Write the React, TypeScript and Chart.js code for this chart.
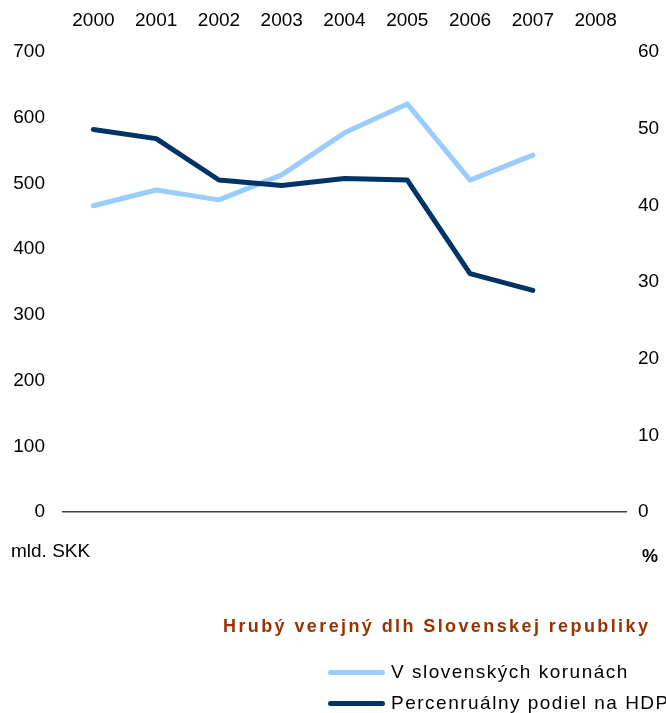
import React, { useEffect, useRef } from 'react';
import { Chart, registerables } from 'chart.js';

Chart.register(...registerables);

const years = ['2000', '2001', '2002', '2003', '2004', '2005', '2006', '2007', '2008'];
const debtSKK = [466, 490, 475, 513, 577, 621, 505, 543, null];
const debtPctGDP = [49.9, 48.7, 43.3, 42.6, 43.5, 43.3, 31.1, 28.9, null];
const leftAxisMin = 0;
const leftAxisMax = 700;
const leftAxisStep = 100;
const rightAxisMin = 0;
const rightAxisMax = 60;
const rightAxisStep = 10;
const seriesNames = ['V slovenských korunách', 'Percenruálny podiel na HDP'];
const titleText = 'Hrubý verejný dlh Slovenskej republiky';
const leftUnit = 'mld. SKK';
const rightUnit = '%';

const LIGHT = '#99CCFF';
const DARK = '#003366';
const FONT = '"Liberation Sans", Arial, sans-serif';

export default function App() {
  const canvasRef = useRef<HTMLCanvasElement | null>(null);

  useEffect(() => {
    document.body.style.margin = '0';
    const canvas = canvasRef.current;
    if (!canvas) return;
    const tickFont = { family: FONT, size: 19 };
    const chart = new Chart(canvas, {
      type: 'line',
      data: {
        labels: years,
        datasets: [
          {
            label: seriesNames[0],
            data: debtSKK,
            yAxisID: 'y',
            borderColor: LIGHT,
            backgroundColor: LIGHT,
            borderWidth: 5,
            pointRadius: 0,
            borderCapStyle: 'round',
            borderJoinStyle: 'round',
            tension: 0,
            order: 1,
          },
          {
            label: seriesNames[1],
            data: debtPctGDP,
            yAxisID: 'y1',
            borderColor: DARK,
            backgroundColor: DARK,
            borderWidth: 5,
            pointRadius: 0,
            borderCapStyle: 'round',
            borderJoinStyle: 'round',
            tension: 0,
            order: 0,
          },
        ],
      },
      options: {
        animation: false,
        responsive: true,
        maintainAspectRatio: false,
        layout: { padding: { left: 0, right: 0, top: 0, bottom: 201 } },
        plugins: {
          legend: { display: false },
          title: { display: false },
          tooltip: { enabled: false },
        },
        scales: {
          x: {
            type: 'category',
            position: 'top',
            offset: true,
            grid: { display: false, drawTicks: false },
            border: { display: false },
            ticks: {
              font: tickFont,
              color: '#000',
              padding: 20,
              maxRotation: 0,
              autoSkip: false,
            },
            afterFit: (s: any) => {
              s.height = 52;
            },
          },
          y: {
            type: 'linear',
            position: 'left',
            min: leftAxisMin,
            max: leftAxisMax,
            grid: {
              drawTicks: false,
              color: (ctx: any) => (ctx.tick && ctx.tick.value === 0 ? '#404040' : 'rgba(0,0,0,0)'),
              lineWidth: 1.5,
            },
            border: { display: false },
            ticks: {
              stepSize: leftAxisStep,
              font: tickFont,
              color: '#000',
              padding: 17,
            },
            afterFit: (s: any) => {
              s.width = 62;
            },
          },
          y1: {
            type: 'linear',
            position: 'right',
            min: rightAxisMin,
            max: rightAxisMax,
            grid: { display: false, drawTicks: false },
            border: { display: false },
            ticks: {
              stepSize: rightAxisStep,
              font: tickFont,
              color: '#000',
              padding: 11,
            },
            afterFit: (s: any) => {
              s.width = 39;
            },
          },
        },
      },
    });
    return () => chart.destroy();
  }, []);

  const abs = (extra: React.CSSProperties): React.CSSProperties => ({
    position: 'absolute',
    fontFamily: FONT,
    whiteSpace: 'nowrap',
    ...extra,
  });

  return (
    <div style={{ position: 'relative', width: 666, height: 713, overflow: 'hidden', background: '#fff' }}>
      <canvas ref={canvasRef} style={{ position: 'absolute', left: 0, top: 0 }} />
      <div style={abs({ left: 11, top: 540, fontSize: 19, lineHeight: '22px', color: '#000' })}>{leftUnit}</div>
      <div style={abs({ left: 642, top: 545, fontSize: 18, lineHeight: '22px', fontWeight: 'bold', color: '#000' })}>{rightUnit}</div>
      <div
        style={abs({
          left: 223,
          top: 615,
          fontSize: 18,
          lineHeight: '22px',
          fontWeight: 'bold',
          letterSpacing: '2.4px',
          color: '#993300',
        })}
      >
        {titleText}
      </div>
      <div style={abs({ left: 328, top: 670, width: 57, height: 5, borderRadius: 3, background: LIGHT })} />
      <div style={abs({ left: 391, top: 661, fontSize: 19, lineHeight: '22px', letterSpacing: '1.5px', color: '#000' })}>
        {seriesNames[0]}
      </div>
      <div style={abs({ left: 328, top: 701, width: 57, height: 5, borderRadius: 3, background: DARK })} />
      <div style={abs({ left: 391, top: 692, fontSize: 19, lineHeight: '22px', letterSpacing: '1.5px', color: '#000' })}>
        {seriesNames[1]}
      </div>
    </div>
  );
}
